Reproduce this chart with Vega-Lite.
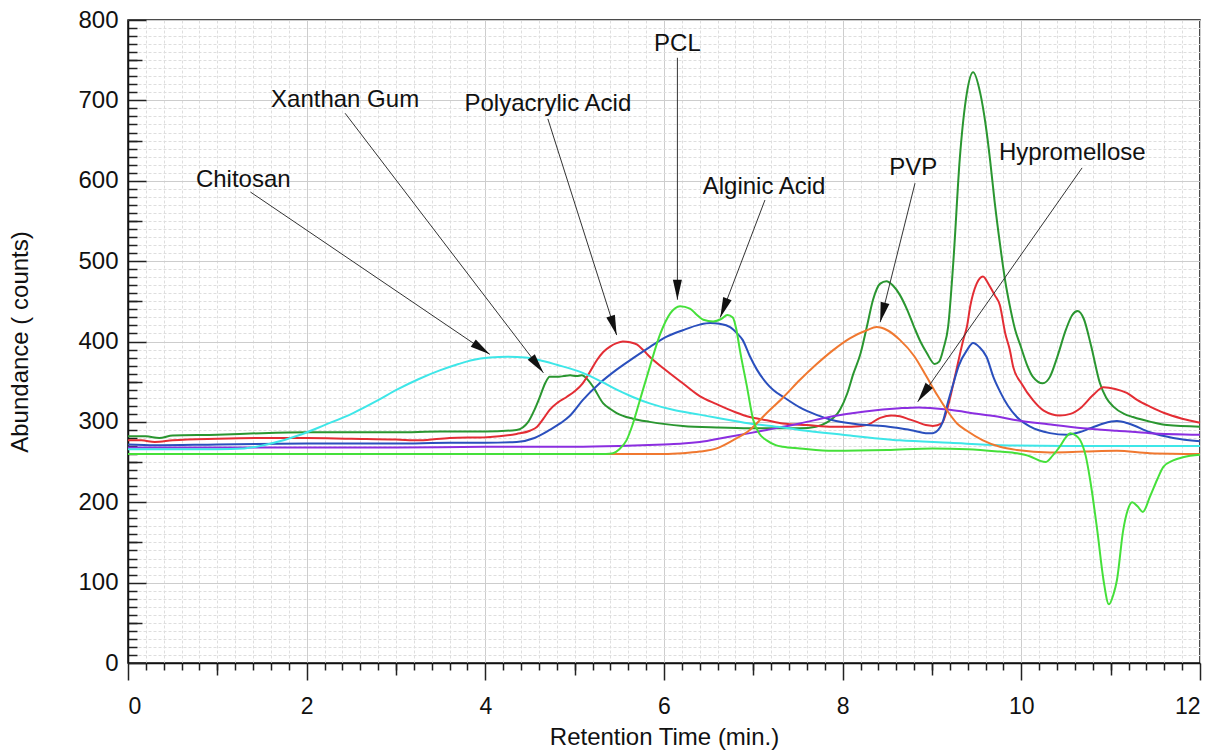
{
  "$schema": "https://vega.github.io/schema/vega-lite/v6.json",
  "width": 1072,
  "height": 643,
  "autosize": {"type": "none"},
  "padding": {"left": 128, "top": 20, "right": 15, "bottom": 89},
  "background": "white",
  "config": {
    "font": "Liberation Sans",
    "view": {"stroke": "#111111", "strokeWidth": 1.5},
    "axis": {"labelFont": "Liberation Sans", "titleFont": "Liberation Sans", "labelColor": "#111111", "titleColor": "#111111", "titleFontWeight": "normal", "domainColor": "#111111", "domainWidth": 1.5, "tickColor": "#222222", "tickWidth": 1.5}
  },
  "datasets": {
    "curves": [
      {"s": "Xanthan Gum", "t": 0, "a": 282}, {"s": "Xanthan Gum", "t": 0.2, "a": 282}, {"s": "Xanthan Gum", "t": 0.35, "a": 280}, {"s": "Xanthan Gum", "t": 0.5, "a": 283}, {"s": "Xanthan Gum", "t": 1.0, "a": 284}, {"s": "Xanthan Gum", "t": 1.5, "a": 286}, {"s": "Xanthan Gum", "t": 2.0, "a": 287}, {"s": "Xanthan Gum", "t": 3.0, "a": 287}, {"s": "Xanthan Gum", "t": 3.5, "a": 288}, {"s": "Xanthan Gum", "t": 4.0, "a": 288}, {"s": "Xanthan Gum", "t": 4.35, "a": 290}, {"s": "Xanthan Gum", "t": 4.48, "a": 300}, {"s": "Xanthan Gum", "t": 4.55, "a": 315}, {"s": "Xanthan Gum", "t": 4.61, "a": 331}, {"s": "Xanthan Gum", "t": 4.67, "a": 348}, {"s": "Xanthan Gum", "t": 4.72, "a": 356}, {"s": "Xanthan Gum", "t": 4.8, "a": 356}, {"s": "Xanthan Gum", "t": 4.88, "a": 357}, {"s": "Xanthan Gum", "t": 4.95, "a": 358}, {"s": "Xanthan Gum", "t": 5.02, "a": 357}, {"s": "Xanthan Gum", "t": 5.08, "a": 358}, {"s": "Xanthan Gum", "t": 5.15, "a": 352}, {"s": "Xanthan Gum", "t": 5.21, "a": 343}, {"s": "Xanthan Gum", "t": 5.32, "a": 323}, {"s": "Xanthan Gum", "t": 5.4, "a": 316}, {"s": "Xanthan Gum", "t": 5.47, "a": 311}, {"s": "Xanthan Gum", "t": 5.65, "a": 304}, {"s": "Xanthan Gum", "t": 5.84, "a": 300}, {"s": "Xanthan Gum", "t": 6.21, "a": 295}, {"s": "Xanthan Gum", "t": 6.59, "a": 293}, {"s": "Xanthan Gum", "t": 6.96, "a": 292}, {"s": "Xanthan Gum", "t": 7.52, "a": 292}, {"s": "Xanthan Gum", "t": 7.7, "a": 294}, {"s": "Xanthan Gum", "t": 7.82, "a": 299}, {"s": "Xanthan Gum", "t": 7.97, "a": 315}, {"s": "Xanthan Gum", "t": 8.05, "a": 335}, {"s": "Xanthan Gum", "t": 8.12, "a": 360}, {"s": "Xanthan Gum", "t": 8.2, "a": 385}, {"s": "Xanthan Gum", "t": 8.27, "a": 418}, {"s": "Xanthan Gum", "t": 8.34, "a": 452}, {"s": "Xanthan Gum", "t": 8.42, "a": 472}, {"s": "Xanthan Gum", "t": 8.49, "a": 475}, {"s": "Xanthan Gum", "t": 8.56, "a": 470}, {"s": "Xanthan Gum", "t": 8.64, "a": 458}, {"s": "Xanthan Gum", "t": 8.72, "a": 440}, {"s": "Xanthan Gum", "t": 8.8, "a": 418}, {"s": "Xanthan Gum", "t": 8.87, "a": 400}, {"s": "Xanthan Gum", "t": 8.94, "a": 386}, {"s": "Xanthan Gum", "t": 9.03, "a": 372}, {"s": "Xanthan Gum", "t": 9.08, "a": 375}, {"s": "Xanthan Gum", "t": 9.13, "a": 392}, {"s": "Xanthan Gum", "t": 9.18, "a": 418}, {"s": "Xanthan Gum", "t": 9.24, "a": 501}, {"s": "Xanthan Gum", "t": 9.31, "a": 626}, {"s": "Xanthan Gum", "t": 9.39, "a": 709}, {"s": "Xanthan Gum", "t": 9.46, "a": 735}, {"s": "Xanthan Gum", "t": 9.54, "a": 709}, {"s": "Xanthan Gum", "t": 9.6, "a": 670}, {"s": "Xanthan Gum", "t": 9.65, "a": 626}, {"s": "Xanthan Gum", "t": 9.7, "a": 575}, {"s": "Xanthan Gum", "t": 9.76, "a": 522}, {"s": "Xanthan Gum", "t": 9.82, "a": 475}, {"s": "Xanthan Gum", "t": 9.87, "a": 445}, {"s": "Xanthan Gum", "t": 9.93, "a": 415}, {"s": "Xanthan Gum", "t": 9.99, "a": 395}, {"s": "Xanthan Gum", "t": 10.06, "a": 372}, {"s": "Xanthan Gum", "t": 10.13, "a": 356}, {"s": "Xanthan Gum", "t": 10.24, "a": 348}, {"s": "Xanthan Gum", "t": 10.32, "a": 356}, {"s": "Xanthan Gum", "t": 10.4, "a": 380}, {"s": "Xanthan Gum", "t": 10.5, "a": 415}, {"s": "Xanthan Gum", "t": 10.57, "a": 433}, {"s": "Xanthan Gum", "t": 10.63, "a": 438}, {"s": "Xanthan Gum", "t": 10.7, "a": 428}, {"s": "Xanthan Gum", "t": 10.78, "a": 395}, {"s": "Xanthan Gum", "t": 10.88, "a": 348}, {"s": "Xanthan Gum", "t": 10.95, "a": 330}, {"s": "Xanthan Gum", "t": 11.03, "a": 319}, {"s": "Xanthan Gum", "t": 11.15, "a": 310}, {"s": "Xanthan Gum", "t": 11.25, "a": 306}, {"s": "Xanthan Gum", "t": 11.45, "a": 300}, {"s": "Xanthan Gum", "t": 11.63, "a": 296}, {"s": "Xanthan Gum", "t": 12, "a": 294},

      {"s": "Polyacrylic Acid", "t": 0, "a": 277}, {"s": "Polyacrylic Acid", "t": 0.15, "a": 277}, {"s": "Polyacrylic Acid", "t": 0.3, "a": 275}, {"s": "Polyacrylic Acid", "t": 0.5, "a": 277}, {"s": "Polyacrylic Acid", "t": 1.0, "a": 279}, {"s": "Polyacrylic Acid", "t": 1.5, "a": 280}, {"s": "Polyacrylic Acid", "t": 2.0, "a": 280}, {"s": "Polyacrylic Acid", "t": 2.5, "a": 279}, {"s": "Polyacrylic Acid", "t": 3.0, "a": 278}, {"s": "Polyacrylic Acid", "t": 3.27, "a": 277}, {"s": "Polyacrylic Acid", "t": 3.6, "a": 280}, {"s": "Polyacrylic Acid", "t": 4.02, "a": 281}, {"s": "Polyacrylic Acid", "t": 4.35, "a": 285}, {"s": "Polyacrylic Acid", "t": 4.5, "a": 289}, {"s": "Polyacrylic Acid", "t": 4.58, "a": 294}, {"s": "Polyacrylic Acid", "t": 4.65, "a": 304}, {"s": "Polyacrylic Acid", "t": 4.72, "a": 315}, {"s": "Polyacrylic Acid", "t": 4.81, "a": 324}, {"s": "Polyacrylic Acid", "t": 4.91, "a": 331}, {"s": "Polyacrylic Acid", "t": 5.0, "a": 338}, {"s": "Polyacrylic Acid", "t": 5.09, "a": 348}, {"s": "Polyacrylic Acid", "t": 5.17, "a": 362}, {"s": "Polyacrylic Acid", "t": 5.25, "a": 377}, {"s": "Polyacrylic Acid", "t": 5.32, "a": 387}, {"s": "Polyacrylic Acid", "t": 5.4, "a": 394}, {"s": "Polyacrylic Acid", "t": 5.47, "a": 398}, {"s": "Polyacrylic Acid", "t": 5.54, "a": 400}, {"s": "Polyacrylic Acid", "t": 5.62, "a": 399}, {"s": "Polyacrylic Acid", "t": 5.7, "a": 396}, {"s": "Polyacrylic Acid", "t": 5.77, "a": 389}, {"s": "Polyacrylic Acid", "t": 5.84, "a": 381}, {"s": "Polyacrylic Acid", "t": 6.0, "a": 366}, {"s": "Polyacrylic Acid", "t": 6.21, "a": 348}, {"s": "Polyacrylic Acid", "t": 6.4, "a": 332}, {"s": "Polyacrylic Acid", "t": 6.59, "a": 322}, {"s": "Polyacrylic Acid", "t": 6.8, "a": 312}, {"s": "Polyacrylic Acid", "t": 6.96, "a": 306}, {"s": "Polyacrylic Acid", "t": 7.15, "a": 302}, {"s": "Polyacrylic Acid", "t": 7.33, "a": 298}, {"s": "Polyacrylic Acid", "t": 7.6, "a": 296}, {"s": "Polyacrylic Acid", "t": 7.89, "a": 294}, {"s": "Polyacrylic Acid", "t": 8.1, "a": 294}, {"s": "Polyacrylic Acid", "t": 8.27, "a": 296}, {"s": "Polyacrylic Acid", "t": 8.42, "a": 305}, {"s": "Polyacrylic Acid", "t": 8.55, "a": 308}, {"s": "Polyacrylic Acid", "t": 8.64, "a": 307}, {"s": "Polyacrylic Acid", "t": 8.75, "a": 303}, {"s": "Polyacrylic Acid", "t": 8.83, "a": 300}, {"s": "Polyacrylic Acid", "t": 8.93, "a": 296}, {"s": "Polyacrylic Acid", "t": 9.01, "a": 295}, {"s": "Polyacrylic Acid", "t": 9.11, "a": 298}, {"s": "Polyacrylic Acid", "t": 9.18, "a": 320}, {"s": "Polyacrylic Acid", "t": 9.24, "a": 348}, {"s": "Polyacrylic Acid", "t": 9.3, "a": 378}, {"s": "Polyacrylic Acid", "t": 9.35, "a": 402}, {"s": "Polyacrylic Acid", "t": 9.39, "a": 418}, {"s": "Polyacrylic Acid", "t": 9.43, "a": 445}, {"s": "Polyacrylic Acid", "t": 9.5, "a": 472}, {"s": "Polyacrylic Acid", "t": 9.57, "a": 481}, {"s": "Polyacrylic Acid", "t": 9.64, "a": 470}, {"s": "Polyacrylic Acid", "t": 9.7, "a": 458}, {"s": "Polyacrylic Acid", "t": 9.76, "a": 445}, {"s": "Polyacrylic Acid", "t": 9.82, "a": 410}, {"s": "Polyacrylic Acid", "t": 9.87, "a": 390}, {"s": "Polyacrylic Acid", "t": 9.91, "a": 368}, {"s": "Polyacrylic Acid", "t": 10.0, "a": 348}, {"s": "Polyacrylic Acid", "t": 10.13, "a": 327}, {"s": "Polyacrylic Acid", "t": 10.25, "a": 314}, {"s": "Polyacrylic Acid", "t": 10.43, "a": 308}, {"s": "Polyacrylic Acid", "t": 10.55, "a": 310}, {"s": "Polyacrylic Acid", "t": 10.66, "a": 317}, {"s": "Polyacrylic Acid", "t": 10.8, "a": 333}, {"s": "Polyacrylic Acid", "t": 10.92, "a": 343}, {"s": "Polyacrylic Acid", "t": 11.05, "a": 341}, {"s": "Polyacrylic Acid", "t": 11.18, "a": 336}, {"s": "Polyacrylic Acid", "t": 11.3, "a": 327}, {"s": "Polyacrylic Acid", "t": 11.44, "a": 319}, {"s": "Polyacrylic Acid", "t": 11.6, "a": 311}, {"s": "Polyacrylic Acid", "t": 11.8, "a": 304}, {"s": "Polyacrylic Acid", "t": 12, "a": 299},

      {"s": "Alginic Acid", "t": 0, "a": 272}, {"s": "Alginic Acid", "t": 0.3, "a": 271}, {"s": "Alginic Acid", "t": 1.0, "a": 272}, {"s": "Alginic Acid", "t": 2.0, "a": 273}, {"s": "Alginic Acid", "t": 3.0, "a": 273}, {"s": "Alginic Acid", "t": 3.6, "a": 274}, {"s": "Alginic Acid", "t": 4.0, "a": 274}, {"s": "Alginic Acid", "t": 4.35, "a": 275}, {"s": "Alginic Acid", "t": 4.55, "a": 280}, {"s": "Alginic Acid", "t": 4.72, "a": 290}, {"s": "Alginic Acid", "t": 4.85, "a": 299}, {"s": "Alginic Acid", "t": 4.95, "a": 308}, {"s": "Alginic Acid", "t": 5.09, "a": 327}, {"s": "Alginic Acid", "t": 5.28, "a": 348}, {"s": "Alginic Acid", "t": 5.47, "a": 365}, {"s": "Alginic Acid", "t": 5.65, "a": 379}, {"s": "Alginic Acid", "t": 5.84, "a": 393}, {"s": "Alginic Acid", "t": 6.03, "a": 406}, {"s": "Alginic Acid", "t": 6.21, "a": 414}, {"s": "Alginic Acid", "t": 6.4, "a": 421}, {"s": "Alginic Acid", "t": 6.52, "a": 423}, {"s": "Alginic Acid", "t": 6.62, "a": 422}, {"s": "Alginic Acid", "t": 6.74, "a": 418}, {"s": "Alginic Acid", "t": 6.82, "a": 410}, {"s": "Alginic Acid", "t": 6.88, "a": 402}, {"s": "Alginic Acid", "t": 6.96, "a": 382}, {"s": "Alginic Acid", "t": 7.04, "a": 365}, {"s": "Alginic Acid", "t": 7.15, "a": 348}, {"s": "Alginic Acid", "t": 7.22, "a": 340}, {"s": "Alginic Acid", "t": 7.35, "a": 330}, {"s": "Alginic Acid", "t": 7.52, "a": 318}, {"s": "Alginic Acid", "t": 7.7, "a": 309}, {"s": "Alginic Acid", "t": 7.89, "a": 302}, {"s": "Alginic Acid", "t": 8.1, "a": 298}, {"s": "Alginic Acid", "t": 8.27, "a": 296}, {"s": "Alginic Acid", "t": 8.45, "a": 295}, {"s": "Alginic Acid", "t": 8.64, "a": 292}, {"s": "Alginic Acid", "t": 8.8, "a": 289}, {"s": "Alginic Acid", "t": 8.93, "a": 286}, {"s": "Alginic Acid", "t": 9.01, "a": 286}, {"s": "Alginic Acid", "t": 9.07, "a": 290}, {"s": "Alginic Acid", "t": 9.12, "a": 300}, {"s": "Alginic Acid", "t": 9.18, "a": 325}, {"s": "Alginic Acid", "t": 9.24, "a": 348}, {"s": "Alginic Acid", "t": 9.3, "a": 370}, {"s": "Alginic Acid", "t": 9.39, "a": 389}, {"s": "Alginic Acid", "t": 9.46, "a": 398}, {"s": "Alginic Acid", "t": 9.53, "a": 393}, {"s": "Alginic Acid", "t": 9.61, "a": 381}, {"s": "Alginic Acid", "t": 9.69, "a": 355}, {"s": "Alginic Acid", "t": 9.76, "a": 338}, {"s": "Alginic Acid", "t": 9.85, "a": 320}, {"s": "Alginic Acid", "t": 9.95, "a": 306}, {"s": "Alginic Acid", "t": 10.1, "a": 294}, {"s": "Alginic Acid", "t": 10.32, "a": 286}, {"s": "Alginic Acid", "t": 10.51, "a": 284}, {"s": "Alginic Acid", "t": 10.65, "a": 287}, {"s": "Alginic Acid", "t": 10.77, "a": 292}, {"s": "Alginic Acid", "t": 10.92, "a": 298}, {"s": "Alginic Acid", "t": 11.07, "a": 301}, {"s": "Alginic Acid", "t": 11.2, "a": 298}, {"s": "Alginic Acid", "t": 11.44, "a": 287}, {"s": "Alginic Acid", "t": 11.7, "a": 280}, {"s": "Alginic Acid", "t": 12, "a": 276},

      {"s": "Hypromellose", "t": 0, "a": 268}, {"s": "Hypromellose", "t": 1, "a": 268}, {"s": "Hypromellose", "t": 2, "a": 268}, {"s": "Hypromellose", "t": 3, "a": 268}, {"s": "Hypromellose", "t": 4, "a": 269}, {"s": "Hypromellose", "t": 5, "a": 269}, {"s": "Hypromellose", "t": 5.5, "a": 270}, {"s": "Hypromellose", "t": 6.0, "a": 272}, {"s": "Hypromellose", "t": 6.21, "a": 273}, {"s": "Hypromellose", "t": 6.4, "a": 275}, {"s": "Hypromellose", "t": 6.7, "a": 281}, {"s": "Hypromellose", "t": 6.96, "a": 286}, {"s": "Hypromellose", "t": 7.15, "a": 290}, {"s": "Hypromellose", "t": 7.52, "a": 298}, {"s": "Hypromellose", "t": 7.89, "a": 307}, {"s": "Hypromellose", "t": 8.25, "a": 313}, {"s": "Hypromellose", "t": 8.64, "a": 317}, {"s": "Hypromellose", "t": 8.85, "a": 318}, {"s": "Hypromellose", "t": 9.01, "a": 317}, {"s": "Hypromellose", "t": 9.2, "a": 315}, {"s": "Hypromellose", "t": 9.5, "a": 310}, {"s": "Hypromellose", "t": 9.76, "a": 306}, {"s": "Hypromellose", "t": 9.95, "a": 302}, {"s": "Hypromellose", "t": 10.3, "a": 297}, {"s": "Hypromellose", "t": 10.69, "a": 292}, {"s": "Hypromellose", "t": 11.07, "a": 289}, {"s": "Hypromellose", "t": 11.44, "a": 286}, {"s": "Hypromellose", "t": 12, "a": 284},

      {"s": "Chitosan", "t": 0, "a": 266}, {"s": "Chitosan", "t": 0.5, "a": 266}, {"s": "Chitosan", "t": 1.0, "a": 266}, {"s": "Chitosan", "t": 1.3, "a": 267}, {"s": "Chitosan", "t": 1.6, "a": 273}, {"s": "Chitosan", "t": 1.93, "a": 284}, {"s": "Chitosan", "t": 2.2, "a": 296}, {"s": "Chitosan", "t": 2.52, "a": 311}, {"s": "Chitosan", "t": 2.8, "a": 327}, {"s": "Chitosan", "t": 3.01, "a": 340}, {"s": "Chitosan", "t": 3.25, "a": 353}, {"s": "Chitosan", "t": 3.49, "a": 364}, {"s": "Chitosan", "t": 3.7, "a": 372}, {"s": "Chitosan", "t": 3.86, "a": 377}, {"s": "Chitosan", "t": 4.05, "a": 380}, {"s": "Chitosan", "t": 4.25, "a": 381}, {"s": "Chitosan", "t": 4.45, "a": 380}, {"s": "Chitosan", "t": 4.6, "a": 377}, {"s": "Chitosan", "t": 4.8, "a": 371}, {"s": "Chitosan", "t": 5.09, "a": 361}, {"s": "Chitosan", "t": 5.3, "a": 350}, {"s": "Chitosan", "t": 5.47, "a": 340}, {"s": "Chitosan", "t": 5.65, "a": 331}, {"s": "Chitosan", "t": 5.84, "a": 323}, {"s": "Chitosan", "t": 6.1, "a": 315}, {"s": "Chitosan", "t": 6.4, "a": 309}, {"s": "Chitosan", "t": 6.59, "a": 305}, {"s": "Chitosan", "t": 6.9, "a": 299}, {"s": "Chitosan", "t": 7.33, "a": 293}, {"s": "Chitosan", "t": 7.52, "a": 290}, {"s": "Chitosan", "t": 8.0, "a": 284}, {"s": "Chitosan", "t": 8.64, "a": 277}, {"s": "Chitosan", "t": 9.2, "a": 274}, {"s": "Chitosan", "t": 9.76, "a": 271}, {"s": "Chitosan", "t": 10.5, "a": 270}, {"s": "Chitosan", "t": 11.2, "a": 270}, {"s": "Chitosan", "t": 12, "a": 270},

      {"s": "PVP", "t": 0, "a": 260}, {"s": "PVP", "t": 1, "a": 260}, {"s": "PVP", "t": 2, "a": 260}, {"s": "PVP", "t": 3, "a": 260}, {"s": "PVP", "t": 4, "a": 260}, {"s": "PVP", "t": 5, "a": 260}, {"s": "PVP", "t": 6, "a": 260}, {"s": "PVP", "t": 6.21, "a": 261}, {"s": "PVP", "t": 6.4, "a": 263}, {"s": "PVP", "t": 6.59, "a": 267}, {"s": "PVP", "t": 6.77, "a": 277}, {"s": "PVP", "t": 6.96, "a": 290}, {"s": "PVP", "t": 7.15, "a": 311}, {"s": "PVP", "t": 7.33, "a": 330}, {"s": "PVP", "t": 7.52, "a": 352}, {"s": "PVP", "t": 7.7, "a": 371}, {"s": "PVP", "t": 7.89, "a": 389}, {"s": "PVP", "t": 8.08, "a": 404}, {"s": "PVP", "t": 8.27, "a": 414}, {"s": "PVP", "t": 8.38, "a": 418}, {"s": "PVP", "t": 8.5, "a": 414}, {"s": "PVP", "t": 8.64, "a": 402}, {"s": "PVP", "t": 8.8, "a": 382}, {"s": "PVP", "t": 8.94, "a": 356}, {"s": "PVP", "t": 9.06, "a": 333}, {"s": "PVP", "t": 9.17, "a": 314}, {"s": "PVP", "t": 9.28, "a": 298}, {"s": "PVP", "t": 9.39, "a": 289}, {"s": "PVP", "t": 9.57, "a": 277}, {"s": "PVP", "t": 9.76, "a": 269}, {"s": "PVP", "t": 9.95, "a": 265}, {"s": "PVP", "t": 10.32, "a": 262}, {"s": "PVP", "t": 10.7, "a": 263}, {"s": "PVP", "t": 11.07, "a": 264}, {"s": "PVP", "t": 11.44, "a": 261}, {"s": "PVP", "t": 12, "a": 260},

      {"s": "PCL", "t": 0, "a": 260}, {"s": "PCL", "t": 1, "a": 260}, {"s": "PCL", "t": 2, "a": 260}, {"s": "PCL", "t": 3, "a": 260}, {"s": "PCL", "t": 4, "a": 260}, {"s": "PCL", "t": 5, "a": 260}, {"s": "PCL", "t": 5.35, "a": 260}, {"s": "PCL", "t": 5.43, "a": 261}, {"s": "PCL", "t": 5.5, "a": 266}, {"s": "PCL", "t": 5.58, "a": 277}, {"s": "PCL", "t": 5.65, "a": 297}, {"s": "PCL", "t": 5.73, "a": 327}, {"s": "PCL", "t": 5.84, "a": 368}, {"s": "PCL", "t": 5.96, "a": 410}, {"s": "PCL", "t": 6.07, "a": 435}, {"s": "PCL", "t": 6.18, "a": 444}, {"s": "PCL", "t": 6.29, "a": 441}, {"s": "PCL", "t": 6.36, "a": 434}, {"s": "PCL", "t": 6.44, "a": 427}, {"s": "PCL", "t": 6.55, "a": 425}, {"s": "PCL", "t": 6.64, "a": 428}, {"s": "PCL", "t": 6.71, "a": 433}, {"s": "PCL", "t": 6.77, "a": 430}, {"s": "PCL", "t": 6.81, "a": 415}, {"s": "PCL", "t": 6.85, "a": 389}, {"s": "PCL", "t": 6.93, "a": 343}, {"s": "PCL", "t": 7.0, "a": 302}, {"s": "PCL", "t": 7.07, "a": 285}, {"s": "PCL", "t": 7.15, "a": 277}, {"s": "PCL", "t": 7.25, "a": 271}, {"s": "PCL", "t": 7.33, "a": 269}, {"s": "PCL", "t": 7.52, "a": 267}, {"s": "PCL", "t": 7.89, "a": 264}, {"s": "PCL", "t": 8.5, "a": 265}, {"s": "PCL", "t": 9.01, "a": 267}, {"s": "PCL", "t": 9.4, "a": 266}, {"s": "PCL", "t": 9.76, "a": 263}, {"s": "PCL", "t": 9.95, "a": 261}, {"s": "PCL", "t": 10.1, "a": 257}, {"s": "PCL", "t": 10.2, "a": 252}, {"s": "PCL", "t": 10.27, "a": 250}, {"s": "PCL", "t": 10.35, "a": 258}, {"s": "PCL", "t": 10.43, "a": 269}, {"s": "PCL", "t": 10.5, "a": 281}, {"s": "PCL", "t": 10.55, "a": 286}, {"s": "PCL", "t": 10.61, "a": 283}, {"s": "PCL", "t": 10.66, "a": 277}, {"s": "PCL", "t": 10.72, "a": 258}, {"s": "PCL", "t": 10.77, "a": 228}, {"s": "PCL", "t": 10.85, "a": 165}, {"s": "PCL", "t": 10.92, "a": 103}, {"s": "PCL", "t": 10.98, "a": 73}, {"s": "PCL", "t": 11.03, "a": 85}, {"s": "PCL", "t": 11.07, "a": 103}, {"s": "PCL", "t": 11.14, "a": 165}, {"s": "PCL", "t": 11.19, "a": 190}, {"s": "PCL", "t": 11.24, "a": 200}, {"s": "PCL", "t": 11.3, "a": 195}, {"s": "PCL", "t": 11.36, "a": 188}, {"s": "PCL", "t": 11.44, "a": 207}, {"s": "PCL", "t": 11.52, "a": 228}, {"s": "PCL", "t": 11.59, "a": 244}, {"s": "PCL", "t": 11.7, "a": 252}, {"s": "PCL", "t": 11.81, "a": 256}, {"s": "PCL", "t": 12, "a": 259}
    ],
    "notes": [
      {"label": "Chitosan", "tx": 1.29, "ty": 601, "x1": 1.37, "y1": 586, "x2": 4.05, "y2": 384},
      {"label": "Xanthan Gum", "tx": 2.43, "ty": 700, "x1": 2.43, "y1": 684, "x2": 4.65, "y2": 361},
      {"label": "Polyacrylic Acid", "tx": 4.70, "ty": 695, "x1": 4.70, "y1": 677, "x2": 5.47, "y2": 408},
      {"label": "PCL", "tx": 6.15, "ty": 770, "x1": 6.15, "y1": 753, "x2": 6.15, "y2": 452},
      {"label": "Alginic Acid", "tx": 7.12, "ty": 592, "x1": 7.13, "y1": 576, "x2": 6.63, "y2": 430},
      {"label": "PVP", "tx": 8.79, "ty": 616, "x1": 8.81, "y1": 597, "x2": 8.42, "y2": 424},
      {"label": "Hypromellose", "tx": 10.57, "ty": 634, "x1": 10.68, "y1": 616, "x2": 8.84, "y2": 325}
    ]
  },
  "layer": [
    {
      "data": {"name": "curves"},
      "mark": {"type": "line", "opacity": 0},
      "encoding": {
        "x": {"field": "t", "type": "quantitative", "scale": {"domain": [0, 12], "nice": false, "zero": false},
          "axis": {"orient": "bottom", "values": [0.2,0.4,0.6,0.8,1,1.2,1.4,1.6,1.8,2.2,2.4,2.6,2.8,3,3.2,3.4,3.6,3.8,4.2,4.4,4.6,4.8,5,5.2,5.4,5.6,5.8,6.2,6.4,6.6,6.8,7,7.2,7.4,7.6,7.8,8.2,8.4,8.6,8.8,9,9.2,9.4,9.6,9.8,10.2,10.4,10.6,10.8,11,11.2,11.4,11.6,11.8],
            "labels": false, "title": null, "domain": false, "tickSize": 7, "grid": true, "gridColor": "#dedede", "gridDash": [3, 2], "gridWidth": 1}},
        "y": {"field": "a", "type": "quantitative", "scale": {"domain": [0, 800], "nice": false, "zero": false},
          "axis": {"orient": "left", "values": [10,20,30,40,50,60,70,80,90,110,120,130,140,150,160,170,180,190,210,220,230,240,250,260,270,280,290,310,320,330,340,350,360,370,380,390,410,420,430,440,450,460,470,480,490,510,520,530,540,550,560,570,580,590,610,620,630,640,650,660,670,680,690,710,720,730,740,750,760,770,780,790],
            "labels": false, "title": null, "domain": false, "tickSize": -9, "grid": true, "gridColor": "#dedede", "gridDash": [3, 2], "gridWidth": 1}},
        "detail": {"field": "s"}
      }
    },
    {
      "data": {"name": "curves"},
      "mark": {"type": "line", "opacity": 0},
      "encoding": {
        "x": {"field": "t", "type": "quantitative",
          "axis": {"orient": "bottom", "values": [1,3,5,7,9,11], "labels": false, "title": null, "domain": false, "tickSize": 12, "grid": false}},
        "y": {"field": "a", "type": "quantitative",
          "axis": {"orient": "left", "values": [50,150,250,350,450,550,650,750], "labels": false, "title": null, "domain": false, "tickSize": -14, "grid": false}},
        "detail": {"field": "s"}
      }
    },
    {
      "data": {"name": "curves"},
      "mark": {"type": "line", "strokeWidth": 2, "interpolate": "monotone"},
      "encoding": {
        "x": {"field": "t", "type": "quantitative",
          "axis": {"orient": "bottom", "values": [0,2,4,6,8,10,12], "tickSize": 17, "labelPadding": 15, "labelFontSize": 23, "title": "Retention Time (min.)", "titleFontSize": 24, "titlePadding": 7, "grid": true, "gridColor": "#cdcdcd", "gridWidth": 1}},
        "y": {"field": "a", "type": "quantitative",
          "axis": {"orient": "left", "values": [0,100,200,300,400,500,600,700,800], "tickSize": -18, "labelPadding": 28, "labelFontSize": 24, "title": "Abundance ( counts)", "titleFontSize": 24, "titlePadding": 45, "grid": true, "gridColor": "#cdcdcd", "gridWidth": 1}},
        "color": {"field": "s", "type": "nominal", "legend": null,
          "scale": {"domain": ["Xanthan Gum", "Polyacrylic Acid", "Alginic Acid", "Hypromellose", "Chitosan", "PVP", "PCL"],
                    "range": ["#2a9630", "#e32d34", "#2a4fbd", "#8b2ee0", "#3ee6e8", "#f07830", "#45e03a"]}}
      }
    },
    {
      "data": {"name": "notes"},
      "mark": {"type": "rule", "color": "#333333", "strokeWidth": 1},
      "encoding": {
        "x": {"field": "x1", "type": "quantitative", "axis": null},
        "y": {"field": "y1", "type": "quantitative", "axis": null},
        "x2": {"field": "x2"},
        "y2": {"field": "y2"}
      }
    },
    {
      "data": {"name": "notes"},
      "transform": [{"calculate": "atan2((datum.x2 - datum.x1) * 89.333, (datum.y2 - datum.y1) * 0.80375) * 180 / PI", "as": "ang"}],
      "mark": {"type": "point", "shape": "M0,0L-0.9,4L0.9,4Z", "filled": true, "color": "#111111", "opacity": 1, "size": 100, "strokeWidth": 0},
      "encoding": {
        "x": {"field": "x2", "type": "quantitative", "axis": null},
        "y": {"field": "y2", "type": "quantitative", "axis": null},
        "angle": {"field": "ang", "type": "quantitative", "scale": null}
      }
    },
    {
      "data": {"name": "notes"},
      "mark": {"type": "text", "fontSize": 24, "align": "center", "baseline": "middle", "color": "#111111", "font": "Liberation Sans"},
      "encoding": {
        "x": {"field": "tx", "type": "quantitative", "axis": null},
        "y": {"field": "ty", "type": "quantitative", "axis": null},
        "text": {"field": "label"}
      }
    }
  ],
  "resolve": {"axis": {"x": "independent", "y": "independent"}}
}
